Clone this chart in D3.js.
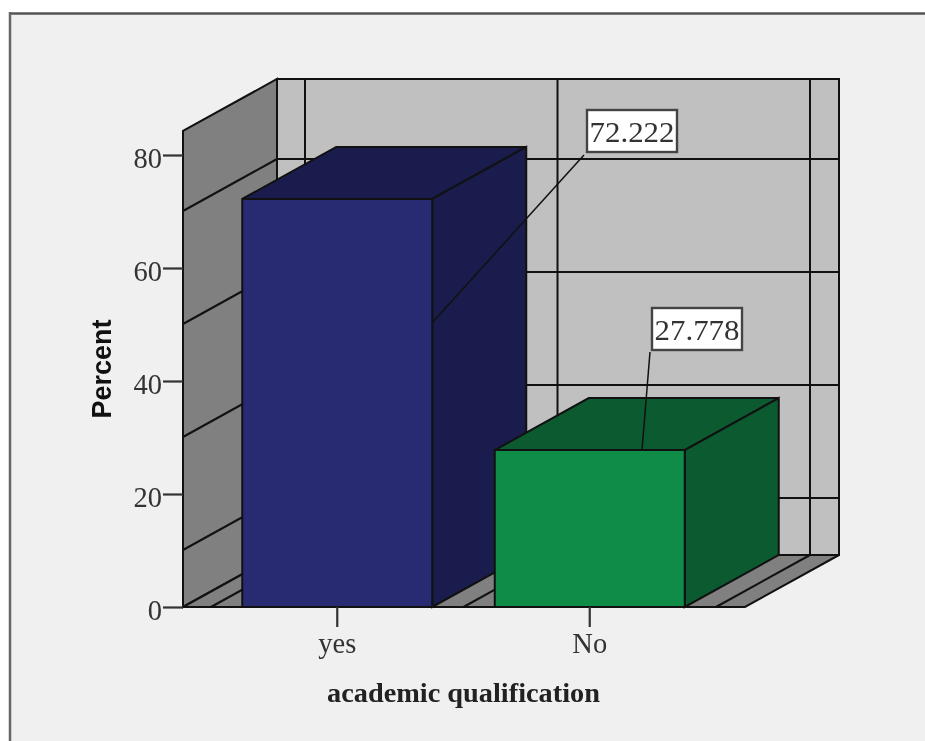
<!DOCTYPE html>
<html><head><meta charset="utf-8">
<script src="https://cdnjs.cloudflare.com/ajax/libs/d3/7.8.5/d3.min.js"></script>
<style>html,body{margin:0;padding:0;background:#fff}svg{display:block;filter:blur(0.45px)}</style>
</head><body><svg id="c" width="925" height="741"></svg>
<script>
const categories = ["yes", "No"];
const percents = [72.222, 27.778];
const yTicks = [0, 20, 40, 60, 80];
const xTitle = "academic qualification";
const yTitle = "Percent";
const faceColors = ["#282a72", "#0f8c48"];
const sideColors = ["#1a1c4d", "#0b5a30"];

const svg = d3.select("#c");
const ink = "#111";
const y = d3.scaleLinear().domain([0, 80]).range([607, 155]);
const x = d3.scaleBand().domain(categories).range([211, 716]).paddingInner(0).paddingOuter(0);
const barW = 190, dx = 94, dy = -52, gridDrop = 56;
const floorL = 183, floorR = 745, yMax = 84.25;
const poly = (pts, fill, sw = 2) => svg.append("polygon")
  .attr("points", pts.map(p => p.join(",")).join(" "))
  .attr("fill", fill).attr("stroke", ink).attr("stroke-width", sw).attr("stroke-linejoin", "miter");
const line = (a, b, sw = 2, col = ink) => svg.append("line")
  .attr("x1", a[0]).attr("y1", a[1]).attr("x2", b[0]).attr("y2", b[1])
  .attr("stroke", col).attr("stroke-width", sw);

// panel + frame
svg.append("rect").attr("x", 10).attr("y", 13).attr("width", 915).attr("height", 728).attr("fill", "#f0f0f0");
line([10, 13.5], [925, 13.5], 2.5, "#555");
line([10, 12], [10, 741], 2.5, "#666");

// walls and floor
const y0 = y(0), yT = y(yMax);
poly([[floorL + dx, yT + dy], [floorR + dx, yT + dy], [floorR + dx, y0 + dy], [floorL + dx, y0 + dy]], "#c0c0c0");
poly([[floorL, yT], [floorL + dx, yT + dy], [floorL + dx, y0 + dy], [floorL, y0]], "#808080");
poly([[floorL, y0], [floorL + dx, y0 + dy], [floorR + dx, y0 + dy], [floorR, y0]], "#808080");

// gridlines
yTicks.slice(1).forEach(t => {
  const by = y(t) + dy + gridDrop;
  line([floorL + dx, by], [floorR + dx, by]);
  line([floorL, by - dy], [floorL + dx, by]);
});
const edges = [x(categories[0]), x(categories[1]), x(categories[1]) + x.bandwidth()];
edges.forEach(e => {
  line([e + dx, yT + dy], [e + dx, y0 + dy]);
  line([e + dx, y0 + dy], [e, y0]);
});

// bars
categories.forEach((c, i) => {
  const cx = x(c) + x.bandwidth() / 2, L = cx - barW / 2, R = cx + barW / 2, top = y(percents[i]);
  poly([[L, top], [L + dx, top + dy], [R + dx, top + dy], [R, top]], sideColors[i]);
  poly([[R, top], [R + dx, top + dy], [R + dx, y0 + dy], [R, y0]], sideColors[i]);
  poly([[L, top], [R, top], [R, y0], [L, y0]], faceColors[i]);
});

// value callouts
const boxes = [
  {x: 587, y: 110, from: [432, 323], to: [584, 155]},
  {x: 652, y: 308, from: [642, 450], to: [650, 352]}
];
percents.forEach((v, i) => {
  const b = boxes[i];
  line(b.from, b.to, 1.5);
  svg.append("rect").attr("x", b.x).attr("y", b.y).attr("width", 90).attr("height", 42)
    .attr("fill", "#fff").attr("stroke", "#444").attr("stroke-width", 2.4);
  svg.append("text").attr("x", b.x + 45).attr("y", b.y + 32).attr("text-anchor", "middle")
    .attr("font-family", "Liberation Serif").attr("font-size", 29).attr("fill", "#333")
    .attr("textLength", 85).attr("lengthAdjust", "spacingAndGlyphs").text(v.toFixed(3));
});

// y axis
const yAxis = d3.axisLeft(y).tickValues(yTicks).tickSize(0).tickPadding(0).tickFormat(d3.format("d"));
const gy = svg.append("g").attr("transform", `translate(${floorL},0)`).call(yAxis);
gy.select(".domain").remove();
gy.selectAll(".tick line").attr("x2", -20).attr("stroke", "#333").attr("stroke-width", 2.2);
gy.selectAll("text").attr("x", -21).attr("dy", 12).attr("fill", "#333")
  .attr("font-family", "Liberation Serif").attr("font-size", 28.5);

// x axis
const xAxis = d3.axisBottom(x).tickSize(0).tickPadding(0);
const gx = svg.append("g").attr("transform", `translate(0,${y0})`).call(xAxis);
gx.select(".domain").remove();
gx.selectAll(".tick line").attr("y2", 20).attr("stroke", "#333").attr("stroke-width", 2.2);
gx.selectAll("text").attr("y", 46).attr("dy", 0).attr("fill", "#333")
  .attr("font-family", "Liberation Serif").attr("font-size", 28.5);

// titles
svg.append("text").attr("x", 463.5).attr("y", 702).attr("text-anchor", "middle")
  .attr("font-family", "Liberation Serif").attr("font-weight", "bold").attr("font-size", 26.5).attr("fill", "#222")
  .attr("textLength", 273).attr("lengthAdjust", "spacingAndGlyphs").text(xTitle);
svg.append("text").attr("transform", "translate(111,369) rotate(-90)").attr("text-anchor", "middle")
  .attr("font-family", "Liberation Sans").attr("font-weight", "bold").attr("font-size", 27).attr("fill", "#111").text(yTitle);
</script></body></html>
